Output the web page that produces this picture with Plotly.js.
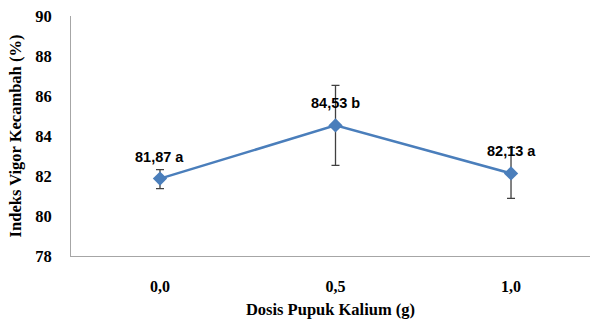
<!DOCTYPE html>
<html><head><meta charset="utf-8">
<script src="https://cdn.plot.ly/plotly-3.0.1.min.js"></script>
<style>html,body{margin:0;padding:0;background:#fff}#c{width:593px;height:324px}</style>
</head><body><div id="c"></div>
<script>
const categories = ["0,0", "0,5", "1,0"];
const values = [81.87, 84.53, 82.13];
const errPlus = [0.45, 2.0, 1.3];
const errMinus = [0.5, 2.0, 1.25];
const labels = ["81,87 a", "84,53 b", "82,13 a"];
const yTicks = [78, 80, 82, 84, 86, 88, 90];

const serif = "Liberation Serif, DejaVu Serif, serif";
const sans = "Liberation Sans, Arial, sans-serif";
const xIdx = categories.map((c, i) => i);

const trace = {
  x: xIdx, y: values, type: "scatter", mode: "lines+markers",
  line: {color: "#4a7ebb", width: 2.5},
  marker: {symbol: "diamond", size: 11, color: "#4a7ebb"},
  error_y: {type: "data", symmetric: false, array: errPlus, arrayminus: errMinus,
            color: "#404040", thickness: 1.3, width: 4},
  hoverinfo: "none"
};

const annotations = labels.map((t, i) => ({
  x: xIdx[i], y: values[i], text: t, showarrow: false, yshift: 22,
  font: {family: sans, size: 14.5, color: "#000", weight: "bold"}
}));

Plotly.newPlot("c", [trace], {
  width: 593, height: 324,
  margin: {l: 71, r: 3, t: 16, b: 68},
  paper_bgcolor: "#fff", plot_bgcolor: "#fff",
  showlegend: false,
  xaxis: {
    range: [-0.507, 2.45], tickvals: xIdx, ticktext: categories,
    showgrid: false, zeroline: false, showline: true, linecolor: "#a6a6a6", linewidth: 1,
    ticks: "", ticklabelstandoff: 16,
    tickfont: {family: serif, size: 16, color: "#000", weight: "bold"},
    title: {text: "Dosis Pupuk Kalium (g)", standoff: 9,
            font: {family: serif, size: 16.5, color: "#000", weight: "bold"}}
  },
  yaxis: {
    range: [78, 90], tickvals: yTicks,
    showgrid: false, zeroline: false, showline: true, linecolor: "#a6a6a6", linewidth: 1,
    ticks: "", ticklabelstandoff: 15,
    tickfont: {family: serif, size: 16.5, color: "#000", weight: "bold"},
    title: {text: "Indeks Vigor Kecambah (%)", standoff: 9,
            font: {family: serif, size: 16.5, color: "#000", weight: "bold"}}
  },
  annotations: annotations
}, {staticPlot: true, displayModeBar: false});
</script></body></html>
